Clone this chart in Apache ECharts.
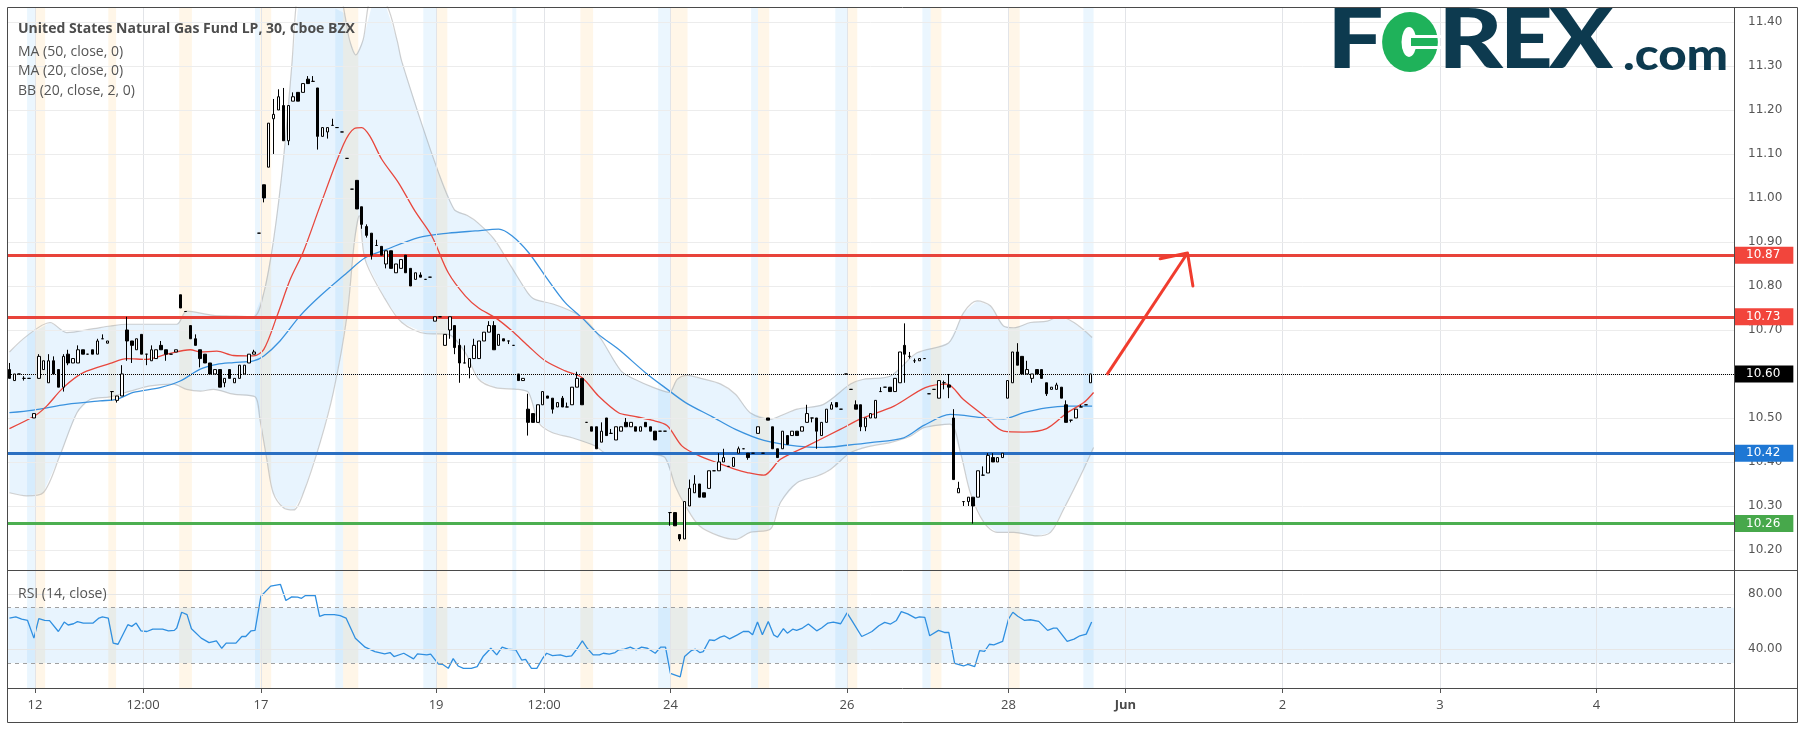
<!DOCTYPE html>
<html><head><meta charset="utf-8">
<script src="https://cdn.jsdelivr.net/npm/echarts@6/dist/echarts.min.js"></script>
<style>html,body{margin:0;padding:0;background:#fff}#c{width:1804px;height:731px}</style>
</head><body><div id="c"></div>
<script>
// ---------------- DATA ----------------
const SLOTS = 353; // bar slots incl. future area
const candleOpen = [
10.61,10.585,10.60,10.59,10.59,10.50,10.59,10.61,10.58,10.63,
10.61,10.57,10.645,10.625,10.625,10.655,10.645,10.655,10.645,10.68,
10.67,10.56,10.54,10.55,10.70,10.675,10.655,10.69,10.645,10.63,
10.635,10.665,10.655,10.645,10.65,10.78,10.742,10.71,10.68,10.655,
10.645,10.625,10.60,10.61,10.58,10.61,10.58,10.59,10.60,10.625,
10.645,10.92,11.03,11.07,11.18,11.20,11.21,11.13,11.22,11.24,
11.24,11.27,11.265,11.25,11.14,11.15,11.165,11.16,11.15,11.09,
11.02,11.04,10.98,10.935,10.92,10.892,10.89,10.85,10.88,10.83,
10.84,10.87,10.84,10.815,10.825,10.815,10.82,10.72,10.73,10.665,
10.70,10.71,10.665,10.625,10.615,10.635,10.635,10.675,10.695,10.71,
10.665,10.68,10.675,10.665,10.60,10.585,10.52,10.51,10.49,10.53,
10.55,10.545,10.525,10.545,10.525,10.53,10.57,10.59,10.49,10.48,
10.48,10.445,10.50,10.465,10.45,10.47,10.49,10.48,10.48,10.47,
10.49,10.48,10.47,10.47,10.47,10.285,10.285,10.235,10.225,10.30,
10.33,10.35,10.33,10.34,10.38,10.38,10.40,10.39,10.39,10.42,
10.43,10.42,10.42,10.465,10.42,10.50,10.48,10.43,10.43,10.46,
10.46,10.47,10.47,10.49,10.50,10.50,10.46,10.49,10.52,10.535,
10.52,10.60,10.565,10.53,10.53,10.48,10.50,10.50,10.56,10.57,
10.57,10.56,10.58,10.665,10.64,10.63,10.63,10.635,10.555,10.565,
10.545,10.58,10.575,10.50,10.33,10.31,10.31,10.32,10.32,10.37,
10.375,10.41,10.40,10.41,10.545,10.58,10.65,10.64,10.60,10.59,
10.61,10.61,10.58,10.565,10.565,10.57,10.53,10.495,10.50,10.525,
10.53,10.58];
const candleClose = [
10.59,10.60,10.60,10.59,10.59,10.51,10.64,10.63,10.63,10.60,
10.57,10.64,10.625,10.635,10.655,10.645,10.645,10.645,10.675,10.68,
10.675,10.56,10.55,10.60,10.675,10.665,10.68,10.645,10.645,10.655,
10.655,10.655,10.645,10.645,10.655,10.75,10.742,10.68,10.665,10.635,
10.625,10.60,10.61,10.57,10.59,10.59,10.59,10.62,10.62,10.645,
10.65,10.92,11.00,11.17,11.19,11.23,11.13,11.21,11.23,11.22,
11.26,11.26,11.265,11.14,11.16,11.16,11.165,11.16,11.15,11.09,
11.02,10.975,10.94,10.915,10.87,10.892,10.87,10.88,10.84,10.85,
10.86,10.83,10.80,10.83,10.82,10.815,10.82,10.73,10.73,10.69,
10.73,10.66,10.625,10.625,10.635,10.665,10.675,10.695,10.71,10.655,
10.69,10.675,10.675,10.665,10.585,10.59,10.49,10.49,10.53,10.56,
10.545,10.52,10.535,10.525,10.525,10.57,10.59,10.53,10.49,10.47,
10.43,10.47,10.46,10.465,10.48,10.48,10.48,10.49,10.47,10.48,
10.48,10.47,10.45,10.47,10.47,10.285,10.255,10.225,10.31,10.34,
10.35,10.32,10.32,10.38,10.38,10.40,10.41,10.39,10.41,10.43,
10.43,10.41,10.42,10.48,10.42,10.495,10.43,10.41,10.47,10.44,
10.47,10.46,10.48,10.51,10.50,10.47,10.49,10.52,10.53,10.525,
10.52,10.60,10.565,10.52,10.48,10.50,10.51,10.54,10.56,10.57,
10.56,10.59,10.65,10.645,10.64,10.63,10.635,10.635,10.555,10.565,
10.585,10.58,10.57,10.36,10.34,10.31,10.32,10.30,10.38,10.37,
10.415,10.40,10.41,10.42,10.585,10.65,10.62,10.60,10.61,10.60,
10.60,10.59,10.555,10.57,10.575,10.545,10.49,10.495,10.52,10.525,
10.53,10.60];
const candleHigh = [
10.625,10.60,10.60,10.595,10.59,10.51,10.645,10.63,10.645,10.64,
10.61,10.645,10.655,10.635,10.665,10.655,10.645,10.655,10.68,10.69,
10.675,10.56,10.55,10.62,10.73,10.675,10.68,10.69,10.645,10.665,
10.655,10.675,10.655,10.645,10.655,10.78,10.742,10.71,10.69,10.655,
10.645,10.625,10.61,10.61,10.59,10.61,10.59,10.62,10.62,10.645,
10.655,10.92,11.03,11.17,11.225,11.247,11.25,11.21,11.24,11.24,
11.26,11.277,11.277,11.25,11.16,11.16,11.18,11.16,11.15,11.09,
11.02,11.04,10.98,10.94,10.92,10.905,10.89,10.88,10.88,10.85,
10.86,10.87,10.84,10.83,10.831,10.815,10.82,10.73,10.73,10.69,
10.73,10.71,10.68,10.665,10.635,10.68,10.675,10.695,10.72,10.72,
10.69,10.68,10.675,10.665,10.60,10.59,10.555,10.51,10.53,10.56,
10.55,10.545,10.535,10.55,10.535,10.57,10.605,10.59,10.49,10.48,
10.48,10.49,10.50,10.475,10.48,10.48,10.50,10.49,10.48,10.48,
10.49,10.48,10.47,10.47,10.47,10.285,10.285,10.235,10.31,10.36,
10.37,10.35,10.33,10.38,10.38,10.42,10.43,10.39,10.41,10.435,
10.43,10.42,10.42,10.48,10.42,10.50,10.48,10.43,10.47,10.46,
10.47,10.47,10.48,10.53,10.50,10.50,10.49,10.52,10.536,10.535,
10.52,10.60,10.565,10.54,10.53,10.50,10.51,10.54,10.57,10.57,
10.57,10.59,10.65,10.715,10.65,10.635,10.635,10.635,10.555,10.565,
10.585,10.585,10.60,10.52,10.355,10.31,10.32,10.32,10.38,10.39,
10.42,10.42,10.41,10.42,10.585,10.65,10.67,10.64,10.63,10.60,
10.61,10.61,10.58,10.57,10.58,10.57,10.54,10.495,10.52,10.53,
10.53,10.60];
const candleLow = [
10.59,10.585,10.60,10.585,10.59,10.50,10.59,10.61,10.58,10.60,
10.57,10.56,10.62,10.625,10.625,10.645,10.645,10.645,10.645,10.68,
10.67,10.54,10.535,10.55,10.63,10.625,10.655,10.645,10.62,10.63,
10.635,10.655,10.63,10.645,10.65,10.75,10.742,10.68,10.665,10.615,
10.625,10.60,10.60,10.57,10.57,10.59,10.58,10.59,10.60,10.625,
10.645,10.92,10.99,11.07,11.10,11.20,11.13,11.12,11.22,11.22,
11.24,11.26,11.265,11.11,11.14,11.135,11.165,11.16,11.15,11.09,
11.02,10.975,10.93,10.91,10.86,10.892,10.87,10.84,10.84,10.83,
10.84,10.83,10.80,10.815,10.82,10.815,10.82,10.72,10.73,10.665,
10.68,10.645,10.58,10.625,10.59,10.635,10.635,10.675,10.695,10.655,
10.665,10.675,10.668,10.665,10.585,10.585,10.46,10.49,10.49,10.53,
10.545,10.51,10.525,10.525,10.525,10.53,10.57,10.53,10.49,10.47,
10.43,10.445,10.46,10.465,10.45,10.47,10.48,10.48,10.47,10.47,
10.48,10.47,10.45,10.47,10.47,10.255,10.255,10.22,10.225,10.30,
10.33,10.32,10.32,10.34,10.38,10.38,10.40,10.39,10.39,10.42,
10.43,10.405,10.42,10.465,10.42,10.495,10.43,10.41,10.43,10.44,
10.46,10.46,10.47,10.49,10.49,10.43,10.46,10.49,10.52,10.525,
10.52,10.60,10.565,10.52,10.47,10.47,10.50,10.50,10.56,10.57,
10.56,10.56,10.58,10.58,10.635,10.625,10.63,10.635,10.555,10.565,
10.545,10.565,10.545,10.36,10.33,10.30,10.30,10.26,10.32,10.37,
10.375,10.40,10.40,10.41,10.545,10.58,10.62,10.60,10.60,10.58,
10.60,10.59,10.55,10.565,10.565,10.545,10.49,10.49,10.50,10.525,
10.53,10.58];

// indicator lines: [bar index, value]
const ma20Pts = [[0,10.476],[5.2,10.505],[7.6,10.527],[11,10.569],[15.1,10.603],[20.6,10.624],[24,10.635],[28,10.633],[32.2,10.645],[37,10.655],[39,10.65],[42.4,10.652],[45.8,10.642],[49.9,10.641],[52,10.656],[54.7,10.732],[57.4,10.815],[60,10.876],[63.5,10.982],[68.3,11.122],[70.5,11.158],[72,11.16],[73.7,11.14],[76.1,11.088],[79.5,11.035],[82.9,10.97],[86.3,10.914],[89.7,10.83],[93.2,10.777],[95.9,10.75],[99.3,10.728],[102.7,10.698],[106,10.664],[109.5,10.63],[113.6,10.607],[117,10.592],[120.4,10.55],[124.5,10.512],[127.2,10.505],[131.3,10.495],[134.4,10.483],[137.5,10.436],[141,10.414],[145,10.397],[148.4,10.383],[150.8,10.376],[154.2,10.37],[157.6,10.406],[163,10.436],[169.8,10.474],[174,10.498],[180.8,10.527],[187.2,10.569],[191.6,10.577],[195,10.542],[199.2,10.505],[203.2,10.47],[207.3,10.468],[212,10.476],[216.2,10.512],[219.6,10.535],[221.6,10.558]];
const ma50Pts = [[0,10.512],[4.9,10.518],[11.7,10.531],[18.5,10.539],[21.9,10.542],[25.3,10.558],[30.8,10.569],[34.9,10.584],[39,10.611],[42.4,10.622],[45.8,10.626],[49.9,10.63],[52,10.641],[55.3,10.675],[59.4,10.732],[63.5,10.777],[69,10.83],[72.7,10.864],[76.8,10.882],[83.6,10.91],[89.7,10.92],[95.2,10.925],[100,10.929],[102.7,10.914],[106.1,10.876],[109.5,10.823],[113.6,10.762],[117,10.728],[120.4,10.69],[124.5,10.656],[130,10.603],[134,10.569],[138.2,10.535],[143.6,10.503],[148.4,10.474],[154.2,10.449],[161,10.436],[166.4,10.433],[171.2,10.438],[176,10.444],[182.8,10.455],[186.9,10.483],[192.3,10.508],[199.2,10.50],[203.2,10.498],[207.3,10.512],[212,10.523],[216.2,10.527],[221.3,10.527]];
const bbUpperPts = [[0,10.65],[3.5,10.686],[8.3,10.717],[11.7,10.694],[17.2,10.703],[20.6,10.709],[24,10.713],[34.2,10.713],[36.2,10.743],[41.7,10.733],[44.4,10.732],[49.9,10.73],[52,10.785],[54,10.906],[56,11.088],[57.7,11.30],[59,11.48],[62,11.62],[66,11.56],[68.5,11.42],[69.5,11.36],[70.8,11.325],[72.3,11.36],[74,11.45],[77,11.44],[79.2,11.36],[80.2,11.31],[86.8,11.086],[90.9,10.974],[93.6,10.96],[95.7,10.944],[99.1,10.906],[102.5,10.845],[105.9,10.785],[107.3,10.77],[111.4,10.758],[115.5,10.739],[118.2,10.717],[120.9,10.68],[125,10.607],[127.8,10.588],[131.7,10.569],[134.9,10.558],[136.5,10.588],[138.6,10.597],[141.3,10.59],[145.4,10.577],[148.4,10.554],[151.4,10.512],[155.5,10.497],[157.6,10.505],[161,10.52],[166.4,10.531],[171.9,10.577],[174.6,10.588],[180,10.595],[185.5,10.648],[192,10.671],[195,10.739],[197.8,10.766],[200.5,10.755],[203.2,10.709],[205.3,10.705],[208.7,10.717],[212.1,10.72],[214.5,10.73],[217.6,10.717],[221.3,10.683]];
const bbLowerPts = [[0,10.33],[3.5,10.323],[6.9,10.33],[10.3,10.414],[13.8,10.512],[16.5,10.542],[20.6,10.548],[24.7,10.561],[28.8,10.573],[33.5,10.577],[36.2,10.565],[39,10.561],[41.7,10.565],[45.8,10.554],[50.2,10.548],[51.2,10.497],[52.6,10.406],[53.9,10.33],[56,10.296],[58.1,10.291],[60.1,10.33],[63.5,10.444],[66.2,10.558],[69,10.732],[70.5,10.90],[71.5,10.96],[72.7,10.86],[76.8,10.77],[80.2,10.717],[85,10.692],[89.7,10.69],[93.2,10.648],[95.9,10.588],[99.3,10.569],[104,10.565],[106.1,10.558],[108.2,10.489],[110.9,10.467],[115,10.455],[119.8,10.436],[121.8,10.421],[131.3,10.417],[134,10.41],[136.1,10.345],[138.2,10.30],[141,10.255],[145,10.232],[148.4,10.224],[151.4,10.24],[155.5,10.247],[157.6,10.308],[161,10.353],[165.1,10.368],[167.8,10.383],[171.9,10.421],[176,10.436],[180,10.444],[184.2,10.459],[186.9,10.478],[192.3,10.486],[194.4,10.421],[196.4,10.33],[199.2,10.262],[201.9,10.24],[205.3,10.24],[210,10.232],[212.8,10.24],[215.5,10.293],[218.9,10.368],[221.6,10.433]];
const rsiPts = [[0,62.5],[1.3,63.3],[2.5,61.8],[3.7,60.8],[4.1,61.3],[5,48],[6,62.1],[7.2,60.8],[8.2,60.6],[10,52.8],[11.2,59.6],[12,57.5],[13.1,58.4],[13.9,59.9],[15.1,58.9],[17.1,58.9],[18.3,62.5],[19,63.3],[20.2,62.5],[21.2,44.4],[22.2,43.6],[24.2,57.7],[25,56.5],[25.9,58.9],[26.9,53.3],[28.1,52.8],[29.3,54.5],[31.3,54.5],[32.5,53.3],[33.7,53.6],[34.2,55.3],[35.2,66.7],[36.3,65],[37.2,54.8],[39.2,48],[40.8,44.8],[42.3,46.1],[43.4,40.7],[44.3,44.4],[46.3,44.4],[47.5,49.2],[48.3,49.2],[49.4,53.3],[50.2,53.6],[51.4,78.3],[53.4,85.6],[55.4,86.8],[56.5,75.2],[57.7,77.8],[58.9,77.6],[59.7,76.8],[60.5,78.8],[62.5,78.8],[63.4,63.8],[64.4,65],[66.4,65],[67.6,64.2],[68.8,62.5],[70.7,48],[72.7,41.5],[74.7,38.3],[76.7,36.6],[77.8,37.6],[78.6,34.7],[80.6,37.1],[82.6,33],[83.4,36.6],[85.3,35.9],[86.1,36.4],[87.7,29.3],[88.5,29.1],[89.7,26.2],[90.7,33.2],[91.7,27.9],[92.8,26.2],[94.4,26.2],[95.6,27.4],[96.8,34.7],[98.4,40.7],[99.6,35.9],[100.7,41.5],[101.9,40],[103.5,39.5],[104.7,32.2],[105.5,32.7],[106.7,26.2],[107.8,26.2],[109,33.5],[109.8,37.1],[111,35.4],[112.6,35.9],[113.8,34.7],[114.9,35.2],[116.1,40.7],[117.1,46.1],[118.1,40.7],[119.3,35.9],[120.6,35.9],[121.4,37.1],[122.6,36.4],[123.8,37.6],[124.5,39.5],[125.7,40],[126.9,41.5],[128.1,39.5],[129.2,41.5],[130.4,40.7],[132,37.1],[133.1,41.5],[134.1,41.5],[135.1,22.5],[137.1,20.1],[138,34.7],[139.4,39],[140.2,40],[141.1,37.6],[141.8,38.3],[143.1,46.8],[144.1,46.3],[145.3,48.7],[146.1,49.7],[147.2,47.5],[148.8,50.4],[150,52.8],[151.1,52.8],[151.9,50.4],[152.9,59.6],[153.9,50.4],[155.1,60.1],[156.2,50.4],[157,48.7],[158.2,54.8],[159,51.6],[160.1,54.5],[160.9,53.6],[162.1,55.3],[163.3,58.2],[165,53.3],[166,55.3],[167.3,58.9],[168.4,59.6],[169.9,58.4],[171.2,66.2],[172.3,60.1],[174.2,49.2],[175.4,51.2],[176.3,52.8],[177.7,57],[178.9,59.4],[180.1,58.2],[181.3,60.8],[182.3,67.2],[183.6,65.5],[185.2,62.5],[186,63.3],[187.1,63],[188.1,49.7],[189.9,53.6],[191.1,52.1],[192,52.1],[193.2,29.8],[195,27.9],[195.9,29.1],[197.3,27.4],[198.3,39],[199.3,38.5],[200.3,43.6],[201.2,43.2],[203,45.6],[204.2,61.8],[205.1,66.7],[206.1,63.8],[207.5,60.8],[208.7,61.3],[210.4,60.1],[212.2,53.6],[213.4,55.3],[214.1,55.3],[216.2,45.6],[217.6,47.3],[218.8,49.7],[220.1,50.9],[221.2,59.6]];

// horizontal price levels drawn on the chart
const levelVals = [10.87, 10.73, 10.42, 10.26];
const lastPrice = 10.60;
// arrow annotation [bar index, price]
const arrowShaft = [[224.3,10.598],[240.8,10.875]];
const arrowHead = [[235.2,10.862],[240.8,10.875],[241.9,10.80]];

// axis ticks / labels
const priceTicks = [10.2,10.3,10.4,10.5,10.6,10.7,10.8,10.9,11.0,11.1,11.2,11.3,11.4];
const rsiTicks = [40, 80];
const dateLabelIdx = [5.2,27.3,51.4,87.2,109.3,135.1,171.2,204.2,228.1,260.2,292.4,324.4];
const dateLabelText = ['12','12:00','17','19','12:00','24','26','28','Jun','2','3','4'];
// extended-session background stripes [from, to] in bar units
const postStripes = [[3.6,5.2],[50.2,51.2],[66.6,68.2],[84.6,87.2],[102.8,103.6],[132.6,135.1],[151.6,153],[168.8,171.3],[186.6,188.3],[219.5,221.6]];
const preStripes = [[5.2,7.3],[20.2,21.8],[34.7,37.3],[51.2,53.5],[68.2,71.3],[87.2,89.5],[116.7,119.3],[135.1,138.6],[153,155.3],[171.3,173.3],[188.3,190.5],[204.2,206.5]];

// ---------------- CHART ----------------
const Y_MIN = 10.1545, Y_MAX = 11.434;
const R_MIN = 12, R_MAX = 96.5;
const GL = 7, GW = 1727;
const cats = Array.from({length: SLOTS}, (_, i) => String(i));
const candleData = candleOpen.map((o, i) => [o, candleClose[i], candleLow[i], candleHigh[i]]);

const stripeAreas = postStripes.map(s => [{xAxis: s[0], itemStyle:{color:'rgba(33,150,243,0.09)'}}, {xAxis: s[1]}])
  .concat(preStripes.map(s => [{xAxis: s[0], itemStyle:{color:'rgba(255,152,0,0.09)'}}, {xAxis: s[1]}]));
const vGrid = dateLabelIdx.map(v => ({xAxis: v}));

const levelLine = ['#e8433a','#e8433a','#2a6fc2','#4caf50'];
const levelBox = ['#f2453c','#f2453c','#1e77d4','#47a84b'];
const boxLabel = (txt, bg) => ({show:true, position:'end', formatter: txt, color:'#fff', backgroundColor: bg,
  padding:[3,13,2,12], fontSize:12, fontFamily:'DejaVu Sans', distance:0});

const chart = echarts.init(document.getElementById('c'), null, {renderer:'canvas'});
const frame = '#4a4a4a';
const navy = '#0d3a4f', green = '#1fb25a';
const option = {
  animation: false,
  backgroundColor: '#ffffff',
  grid: [
    {left: GL, top: 7, width: GW, height: 563},
    {left: GL, top: 571, width: GW, height: 117}
  ],
  xAxis: [
    {type:'category', gridIndex:0, data: cats, boundaryGap:true, show:false},
    {type:'value', gridIndex:0, min:-0.5, max:SLOTS-0.5, show:false},
    {type:'value', gridIndex:1, min:-0.5, max:SLOTS-0.5,
      axisLine:{show:false}, splitLine:{show:false},
      axisTick:{show:true, customValues: dateLabelIdx, length:5, lineStyle:{color:'#555'}},
      axisLabel:{show:true, customValues: dateLabelIdx, margin:11, color:'#4a4a4a', fontSize:13, fontFamily:'Open Sans',
        formatter: v => { let k = 0, d = 1e9; dateLabelIdx.forEach((x, j) => { if (Math.abs(x - v) < d) { d = Math.abs(x - v); k = j; } });
          const t = dateLabelText[k]; return t === 'Jun' ? '{b|Jun}' : t; },
        rich: {b: {fontWeight:'bold', fontSize:13, fontFamily:'Open Sans', color:'#4a4a4a'}}}}
  ],
  yAxis: [
    {type:'value', gridIndex:0, position:'right', min:Y_MIN, max:Y_MAX,
      axisLine:{show:false}, splitLine:{show:false},
      axisTick:{show:true, customValues: priceTicks, length:5, lineStyle:{color:'#555'}},
      axisLabel:{show:true, customValues: priceTicks, margin:14, color:'#555', fontSize:12, fontFamily:'DejaVu Sans', formatter: v => v.toFixed(2)}},
    {type:'value', gridIndex:1, position:'right', min:R_MIN, max:R_MAX,
      axisLine:{show:false}, splitLine:{show:false},
      axisTick:{show:true, customValues: rsiTicks, length:5, lineStyle:{color:'#555'}},
      axisLabel:{show:true, customValues: rsiTicks, margin:14, color:'#555', fontSize:12, fontFamily:'DejaVu Sans', formatter: v => v.toFixed(2)}}
  ],
  series: [
    {type:'line', xAxisIndex:1, yAxisIndex:0, data:[], z:0, silent:true,
      markArea:{silent:true, data: stripeAreas},
      markLine:{silent:true, symbol:'none', label:{show:false},
        data: vGrid.map(d => Object.assign({lineStyle:{color:'#e2e4e8', width:1, type:'solid'}}, d))
          .concat(priceTicks.map(v => ({yAxis: v, lineStyle:{color:'#ececec', width:1, type:'solid'}})))}},
    {type:'line', xAxisIndex:1, yAxisIndex:0, data:[], z:1, silent:true,
      markLine:{silent:true, symbol:'none',
        data: levelVals.map((v, k) => ({yAxis: v, lineStyle:{color: levelLine[k], width:3, type:'solid'}, label: boxLabel(v.toFixed(2), levelBox[k])}))
          .concat([{yAxis: lastPrice, lineStyle:{color:'#000', width:1, type:'dotted'}, label: boxLabel(lastPrice.toFixed(2), '#000')}])}},
    {type:'custom', xAxisIndex:1, yAxisIndex:0, z:2, silent:true, clip:true, data:[[0, 10.6]],
      renderItem: (params, api) => {
        const pts = [];
        bbUpperPts.forEach(p => pts.push(api.coord([p[0], Math.min(p[1], Y_MAX)])));
        for (let k = bbLowerPts.length - 1; k >= 0; k--) pts.push(api.coord(bbLowerPts[k]));
        return {type:'polygon', shape:{points: pts}, style:{fill:'rgba(33,150,243,0.10)'}};
      }},
    {type:'line', name:'BB upper', xAxisIndex:1, yAxisIndex:0, data: bbUpperPts, z:3, showSymbol:false, smooth:0.3, silent:true,
      lineStyle:{color:'rgba(170,170,170,0.55)', width:1.2}},
    {type:'line', name:'BB lower', xAxisIndex:1, yAxisIndex:0, data: bbLowerPts, z:3, showSymbol:false, smooth:0.3, silent:true,
      lineStyle:{color:'rgba(170,170,170,0.55)', width:1.2}},
    {type:'line', name:'MA 50', xAxisIndex:1, yAxisIndex:0, data: ma50Pts, z:4, showSymbol:false, smooth:0.3, silent:true,
      lineStyle:{color:'#3a92de', width:1.3}},
    {type:'line', name:'MA 20', xAxisIndex:1, yAxisIndex:0, data: ma20Pts, z:4, showSymbol:false, smooth:0.3, silent:true,
      lineStyle:{color:'#e8473d', width:1.3}},
    {type:'candlestick', xAxisIndex:0, yAxisIndex:0, data: candleData, z:5, barWidth:3, silent:true,
      itemStyle:{color:'#ffffff', color0:'#000000', borderColor:'#000000', borderColor0:'#000000', borderWidth:1}},
    {type:'line', xAxisIndex:1, yAxisIndex:0, data: arrowShaft, z:6, showSymbol:false, silent:true, lineStyle:{color:'#f03c2e', width:3}},
    {type:'line', xAxisIndex:1, yAxisIndex:0, data: arrowHead, z:6, showSymbol:false, silent:true, lineStyle:{color:'#f03c2e', width:3, cap:'round', join:'round'}},
    {type:'line', xAxisIndex:2, yAxisIndex:1, data:[], z:0, silent:true,
      markArea:{silent:true, data: stripeAreas.concat([[{yAxis:30, itemStyle:{color:'rgba(33,150,243,0.10)'}}, {yAxis:70}]])},
      markLine:{silent:true, symbol:'none', label:{show:false},
        data: vGrid.map(d => Object.assign({lineStyle:{color:'#e2e4e8', width:1, type:'solid'}}, d))
          .concat(rsiTicks.map(v => ({yAxis: v, lineStyle:{color:'#e6e6e6', width:1, type:'solid'}})))
          .concat([30, 70].map(v => ({yAxis: v, lineStyle:{color:'#a0a0a0', width:1, type:[4,4]}})))}},
    {type:'line', name:'RSI', xAxisIndex:2, yAxisIndex:1, data: rsiPts, z:3, showSymbol:false, silent:true,
      lineStyle:{color:'#2f8fe0', width:1.3}}
  ],
  graphic: {elements: [
    {type:'line', silent:true, shape:{x1:7.5, y1:7.5, x2:1797.5, y2:7.5}, style:{stroke:frame, lineWidth:1}, z:100},
    {type:'line', silent:true, shape:{x1:7.5, y1:7.5, x2:7.5, y2:722.5}, style:{stroke:frame, lineWidth:1}, z:100},
    {type:'line', silent:true, shape:{x1:1797.5, y1:7.5, x2:1797.5, y2:722.5}, style:{stroke:frame, lineWidth:1}, z:100},
    {type:'line', silent:true, shape:{x1:7.5, y1:722.5, x2:1797.5, y2:722.5}, style:{stroke:frame, lineWidth:1}, z:100},
    {type:'line', silent:true, shape:{x1:1734.5, y1:7.5, x2:1734.5, y2:722.5}, style:{stroke:frame, lineWidth:1}, z:100},
    {type:'line', silent:true, shape:{x1:7.5, y1:570.5, x2:1797.5, y2:570.5}, style:{stroke:frame, lineWidth:1}, z:100},
    {type:'line', silent:true, shape:{x1:7.5, y1:688.5, x2:1797.5, y2:688.5}, style:{stroke:frame, lineWidth:1}, z:100},
    {type:'text', silent:true, x:18, y:29, z:100, style:{text:'United States Natural Gas Fund LP, 30, Cboe BZX', font:'bold 14px "Open Sans"', fill:'#4d4d4d', verticalAlign:'middle'}},
    {type:'text', silent:true, x:18, y:52, z:100, style:{text:'MA (50, close, 0)', font:'14px "Open Sans"', fill:'#555', verticalAlign:'middle'}},
    {type:'text', silent:true, x:18, y:71.5, z:100, style:{text:'MA (20, close, 0)', font:'14px "Open Sans"', fill:'#555', verticalAlign:'middle'}},
    {type:'text', silent:true, x:18, y:91, z:100, style:{text:'BB (20, close, 2, 0)', font:'14px "Open Sans"', fill:'#555', verticalAlign:'middle'}},
    {type:'text', silent:true, x:18, y:594, z:100, style:{text:'RSI (14, close)', font:'14px "Open Sans"', fill:'#555', verticalAlign:'middle'}},
    // logo: F  (green 0)  R E X .com
    {type:'text', silent:true, x:1327, y:42, scaleX:1.22, z:100, style:{text:'F', font:'900 82px Lato', fill:navy, verticalAlign:'middle'}},
    {type:'circle', silent:true, x:1410, y:42, scaleX:0.93, z:100, shape:{cx:0, cy:0, r:30}, style:{fill:green}},
    {type:'circle', silent:true, x:1409, y:42, scaleX:0.5, z:101, shape:{cx:0, cy:0, r:15}, style:{fill:'#ffffff'}},
    {type:'rect', silent:true, z:102, shape:{x:1410, y:35, width:32, height:3}, style:{fill:'#ffffff'}},
    {type:'rect', silent:true, z:102, shape:{x:1410, y:46, width:32, height:3}, style:{fill:'#ffffff'}},
    {type:'rect', silent:true, z:103, shape:{x:1411, y:38, width:20, height:8}, style:{fill:green}},
    {type:'text', silent:true, x:1438, y:42, scaleX:1.22, z:100, style:{text:'R', font:'900 82px Lato', fill:navy, verticalAlign:'middle'}},
    {type:'text', silent:true, x:1500, y:42, scaleX:1.12, z:100, style:{text:'E', font:'900 82px Lato', fill:navy, verticalAlign:'middle'}},
    {type:'text', silent:true, x:1549, y:42, scaleX:1.15, z:100, style:{text:'X', font:'900 82px Lato', fill:navy, verticalAlign:'middle'}},
    {type:'text', silent:true, x:1623, y:56, scaleX:1.12, z:100, style:{text:'.com', font:'900 44px Lato', fill:navy, verticalAlign:'middle'}}
  ]}
};
chart.setOption(option);
</script>
</body></html>
